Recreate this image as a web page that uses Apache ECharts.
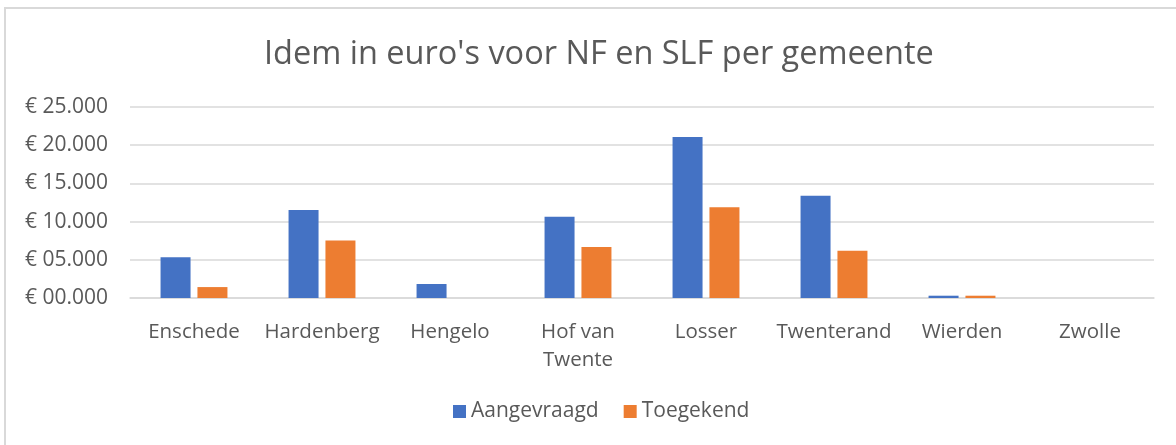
<!DOCTYPE html>
<html>
<head>
<meta charset="utf-8">
<script src="https://cdn.jsdelivr.net/npm/echarts@6/dist/echarts.min.js"></script>
<style>
html,body{margin:0;padding:0;background:#fff;}
#frame{position:absolute;left:4px;top:7px;width:1200px;height:460px;border-top:2px solid #d9d9d9;border-left:2px solid #d9d9d9;}
#chart{position:absolute;left:0;top:0;width:1176px;height:445px;}
</style>
</head>
<body>
<div id="frame"></div>
<div id="chart"></div>
<script>
const titleText = "Idem in euro's voor NF en SLF per gemeente";
const categories = ['Enschede','Hardenberg','Hengelo','Hof van Twente','Losser','Twenterand','Wierden','Zwolle'];
const seriesNames = ['Aangevraagd','Toegekend'];
const aangevraagd = [5350, 11520, 1830, 10650, 21080, 13390, 300, 0];
const toegekend = [1430, 7520, 0, 6690, 11870, 6170, 300, 0];
const yMin = 0, yMax = 25000, yStep = 5000;

const font = '"Open Sans", sans-serif';
const textColor = '#595959';
const chart = echarts.init(document.getElementById('chart'));
chart.setOption({
  animation: false,
  backgroundColor: 'transparent',
  title: {
    text: titleText, left: 259, top: 33,
    textStyle: {fontFamily: font, fontSize: 32.5, fontWeight: 'normal', color: textColor}
  },
  legend: {
    bottom: 18, left: 448, itemWidth: 13, itemHeight: 13, itemGap: 25,
    icon: 'rect',
    textStyle: {fontFamily: font, fontSize: 21, color: textColor},
    data: seriesNames
  },
  grid: {left: 130, right: 22, top: 107, bottom: 147, containLabel: false},
  xAxis: {
    type: 'category', data: categories,
    axisLine: {show: true, lineStyle: {color: '#d9d9d9', width: 1.5}},
    axisTick: {show: false},
    axisLabel: {
      fontFamily: font, fontSize: 20.5, color: textColor, margin: 20, interval: 0, lineHeight: 28,
      formatter: v => v.length > 12 ? v.replace(/ (\S+)$/, '\n$1') : v
    }
  },
  yAxis: {
    type: 'value', min: yMin, max: yMax, interval: yStep,
    axisLine: {show: false}, axisTick: {show: false},
    splitLine: {lineStyle: {color: '#d9d9d9', width: 1.5}},
    axisLabel: {
      fontFamily: font, fontSize: 21, color: textColor, margin: 22,
      formatter: v => '€ ' + String(Math.round(v / 1000)).padStart(2, '0') + '.000'
    }
  },
  series: [
    {name: seriesNames[0], type: 'bar', data: aangevraagd, barWidth: 30, barGap: '23%',
     itemStyle: {color: '#4472C4'}},
    {name: seriesNames[1], type: 'bar', data: toegekend, barWidth: 30,
     itemStyle: {color: '#ED7D31'}}
  ]
});
</script>
</body>
</html>
